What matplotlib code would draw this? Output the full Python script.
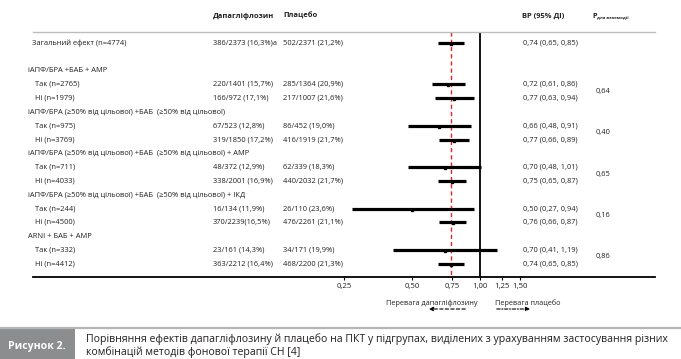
import numpy as np
import matplotlib
matplotlib.use("Agg")
import matplotlib.pyplot as plt
from matplotlib.patches import Rectangle, FancyArrowPatch
from matplotlib.lines import Line2D

plt.rcParams['font.family'] = ['Open Sans', 'DejaVu Sans']

# ---------------- data ----------------
row_labels = ["Загальний ефект (n=4774)", "",
              "іАПФ/БРА +БАБ + АМР", "Так (n=2765)", "Ні (n=1979)",
              "іАПФ/БРА (≥50% від цільової) +БАБ  (≥50% від цільової)", "Так (n=975)", "Ні (n=3769)",
              "іАПФ/БРА (≥50% від цільової) +БАБ  (≥50% від цільової) + АМР", "Так (n=711)", "Ні (n=4033)",
              "іАПФ/БРА (≥50% від цільової) +БАБ  (≥50% від цільової) + ІКД", "Так (n=244)", "Ні (n=4500)",
              "ARNI + БАБ + АМР", "Так (n=332)", "Ні (n=4412)"]
row_kind = ["overall", "blank",
            "header", "sub", "sub",
            "header", "sub", "sub",
            "header", "sub", "sub",
            "header", "sub", "sub",
            "header", "sub", "sub"]
dapa_txt = ["386/2373 (16,3%)a", "", "", "220/1401 (15,7%)", "166/972 (17,1%)",
            "", "67/523 (12,8%)", "319/1850 (17,2%)", "", "48/372 (12,9%)", "338/2001 (16,9%)",
            "", "16/134 (11,9%)", "370/2239(16,5%)", "", "23/161 (14,3%)", "363/2212 (16,4%)"]
plac_txt = ["502/2371 (21,2%)", "", "", "285/1364 (20,9%)", "217/1007 (21,6%)",
            "", "86/452 (19,0%)", "416/1919 (21,7%)", "", "62/339 (18,3%)", "440/2032 (21,7%)",
            "", "26/110 (23,6%)", "476/2261 (21,1%)", "", "34/171 (19,9%)", "468/2200 (21,3%)"]
hr = [0.74, None, None, 0.72, 0.77, None, 0.66, 0.77, None, 0.70, 0.75, None, 0.50, 0.76, None, 0.70, 0.74]
lo = [0.65, None, None, 0.61, 0.63, None, 0.48, 0.66, None, 0.48, 0.65, None, 0.27, 0.66, None, 0.41, 0.65]
hi = [0.85, None, None, 0.86, 0.94, None, 0.91, 0.89, None, 1.01, 0.87, None, 0.94, 0.87, None, 1.19, 0.85]
p_vals = ["0,64", "0,40", "0,65", "0,16", "0,86"]
p_rows = [(3, 4), (6, 7), (9, 10), (12, 13), (15, 16)]
ticks = [0.25, 0.50, 0.75, 1.00, 1.25, 1.50]
tick_labels = ["0,25", "0,50", "0,75", "1,00", "1,25", "1,50"]
overall_hr = 0.74

def fmt(v):
    return f"{v:.2f}".replace(".", ",")

# ---------------- layout ----------------
W, H = 681, 359
fig = plt.figure(figsize=(W / 100, H / 100), dpi=100)
TXT = '#231f20'

def fx(x):
    return x / W

def fy(y):
    return 1 - y / H

row_y0, row_dy = 43.0, 13.8
def ry(i):
    return row_y0 + row_dy * i

ax_left, ax_right, ax_top, ax_bot = 33, 655, 32, 277
ax = fig.add_axes([fx(ax_left), fy(ax_bot), fx(ax_right - ax_left), (ax_bot - ax_top) / H])
ax.set_xscale('log')
ax.set_xlim(0.01045, 5.96)
ax.set_ylim(ax_bot, ax_top)
for s in ['top', 'left', 'right']:
    ax.spines[s].set_visible(False)
ax.spines['bottom'].set_linewidth(1.3)
ax.set_yticks([])
ax.set_xticks(ticks)
ax.set_xticklabels(tick_labels, fontsize=5.6, color=TXT)
ax.xaxis.set_minor_locator(matplotlib.ticker.NullLocator())
ax.tick_params(axis='x', length=2.5, width=0.8, pad=2)
ax.patch.set_alpha(0)

# reference lines
ax.plot([1, 1], [ax_top, ax_bot], color='black', lw=1.3, zorder=2)
ax.plot([overall_hr, overall_hr], [ax_top, ax_bot], color='#e8221f', lw=1.0, ls=(0, (3, 2.2)), zorder=3)

# CIs
for i in range(len(hr)):
    if hr[i] is None:
        continue
    y = ry(i)
    ax.plot([lo[i], hi[i]], [y, y], color='black', lw=2.3, solid_capstyle='butt', zorder=4)
    ax.plot([hr[i]], [y + 1.0], marker='s', ms=1.5, color='black', zorder=5)

# top grey line
fig.add_artist(Line2D([fx(33), fx(655)], [fy(32), fy(32)], color='#bdbdbd', lw=1.0))

# headers
fs = 5.4
fig.text(fx(213), fy(16), "Дапагліфлозин", fontsize=fs, fontweight='bold', va='center', color=TXT)
fig.text(fx(283), fy(16), "Плацебо", fontsize=fs, fontweight='bold', va='center', color=TXT)
fig.text(fx(522), fy(16), "ВР (95% ДІ)", fontsize=fs, fontweight='bold', va='center', color=TXT)
fig.text(fx(592), fy(17), "P", fontsize=5.3, fontweight='bold', va='center', color=TXT)
fig.text(fx(597), fy(18), "для взаємодії", fontsize=3.1, fontweight='bold', va='center', color=TXT)

# rows
for i, lab in enumerate(row_labels):
    k = row_kind[i]
    y = ry(i)
    if k == "blank":
        continue
    x = {"overall": 32, "header": 28, "sub": 35}[k]
    fig.text(fx(x), fy(y), lab, fontsize=fs, va='center', color=TXT)
    if dapa_txt[i]:
        fig.text(fx(213), fy(y), dapa_txt[i], fontsize=fs, va='center', color=TXT)
    if plac_txt[i]:
        fig.text(fx(283), fy(y), plac_txt[i], fontsize=fs, va='center', color=TXT)
    if hr[i] is not None:
        fig.text(fx(523), fy(y), f"{fmt(hr[i])} ({fmt(lo[i])}, {fmt(hi[i])})", fontsize=fs,
                 va='center', color=TXT)

for pv, (a, b) in zip(p_vals, p_rows):
    fig.text(fx(596), fy((ry(a) + ry(b)) / 2), pv, fontsize=fs, va='center', color=TXT)

# favour labels and arrows
fig.text(fx(432), fy(303), "Перевага дапагліфлозину", fontsize=5.2, ha='center', va='center', color=TXT)
fig.text(fx(528), fy(303), "Перевага плацебо", fontsize=5.2, ha='center', va='center', color=TXT)
fig.add_artist(FancyArrowPatch((fx(468), fy(309)), (fx(426), fy(309)), arrowstyle='-|>,head_length=2.5,head_width=1.2',
                               ls=(0, (3, 2)), lw=0.8, color='black', mutation_scale=1))
fig.add_artist(FancyArrowPatch((fx(494), fy(309)), (fx(533), fy(309)), arrowstyle='-|>,head_length=2.5,head_width=1.2',
                               ls=(0, (3, 1.5, 1, 1.5)), lw=0.8, color='black', mutation_scale=1))

# caption
fig.add_artist(Line2D([0, 1], [fy(328), fy(328)], color='#b5b5b5', lw=1.6))
fig.add_artist(Rectangle((0, 0), fx(75), fy(329), color='#8c8d8f', lw=0))
fig.text(fx(37), fy(346), "Рисунок 2.", fontsize=7.6, fontweight='bold', color='white', ha='center', va='center')
fig.text(fx(86), fy(339), "Порівняння ефектів дапагліфлозину й плацебо на ПКТ у підгрупах, виділених з урахуванням застосування різних",
         fontsize=7.6, color=TXT, va='center')
fig.text(fx(86), fy(352), "комбінацій методів фонової терапії СН [4]", fontsize=7.6, color=TXT, va='center')

fig.savefig("out.png", dpi=100)
